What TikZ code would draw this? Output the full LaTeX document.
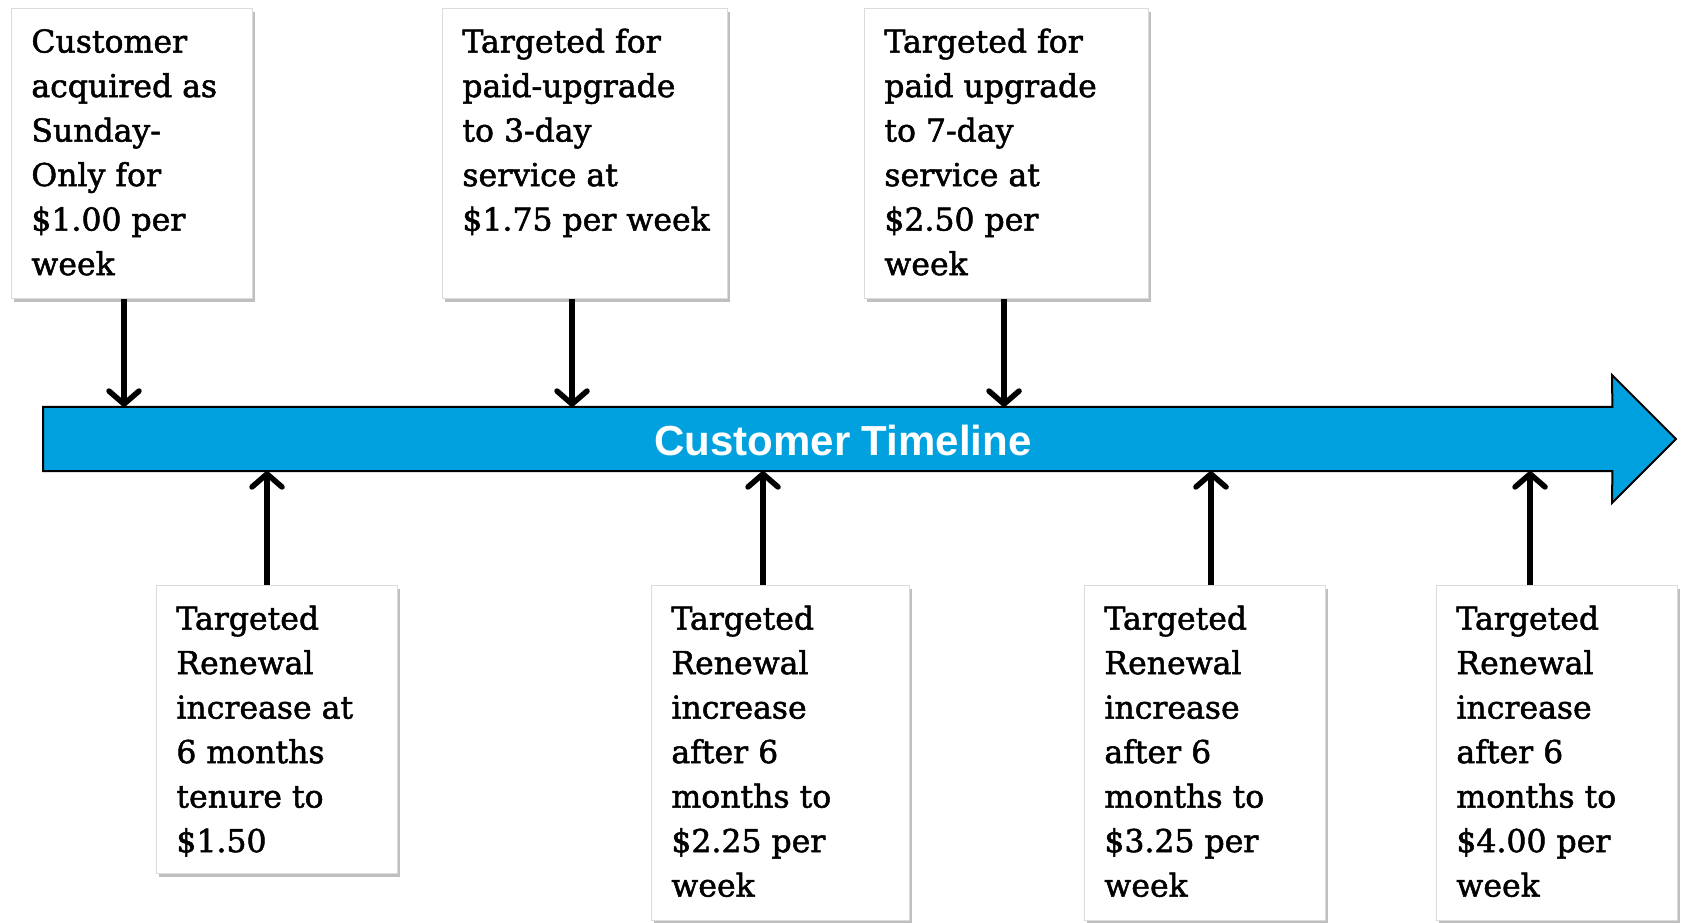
\documentclass[tikz,border=0pt]{standalone}
\usepackage{fontspec}
\setmainfont{DejaVu Serif}
\newfontfamily\cardfont{DejaVu Serif}[FakeBold=1.6]
\newfontfamily\labelsans{Liberation Sans}
\usetikzlibrary{arrows.meta,shadows}

\definecolor{tlblue}{RGB}{0,161,222}

% card text: fixed-size top-aligned block of unbroken lines
\newcommand\cardtext[3]{\parbox[t][#1pt][t]{#2pt}{\begin{tabular}[t]{@{}l@{}}#3\end{tabular}}}

\tikzset{
  card/.style={draw=black!14, line width=0.8pt, fill=white, anchor=north west,
    inner xsep=20pt, inner ysep=13pt,
    font=\cardfont\fontsize{31.5}{44.5}\selectfont,
    drop shadow={shadow xshift=3pt, shadow yshift=-4pt, fill=black, opacity=0.25}},
  conn/.style={line width=5.5pt, -{Straight Barb[length=13pt, width=30pt, round]}},
  timeline/.style={draw=black, line width=2pt, fill=tlblue, line join=miter},
  tllabel/.style={text=white, font=\labelsans\bfseries\fontsize{42}{50}\selectfont}
}

\begin{document}
\begin{tikzpicture}[x=1pt, y=-1pt]
\useasboundingbox (0,0) rectangle (1683,922);

% timeline shaft and arrow outline
\node[minimum width=1569pt, minimum height=64pt, inner sep=0, anchor=west] (tl) at (43,439) {};
\draw[timeline] (tl.north west) -- (tl.north east) -- (1612,375) -- (1676,439)
  -- (1612,503) -- (tl.south east) -- (tl.south west) -- cycle;
\node[tllabel] (tllab) at (843,440) {Customer Timeline};

% upper cards
\node[card] (b1) at (11,8) {\cardtext{264}{201}{Customer\\acquired as\\Sunday-\\Only for\\\$1.00 per\\week}};
\node[card] (b2) at (442,8) {\cardtext{264}{245}{Targeted for\\paid-upgrade\\to 3-day\\service at\\\$1.75 per week}};
\node[card] (b3) at (864,8) {\cardtext{264}{244}{Targeted for\\paid upgrade\\to 7-day\\service at\\\$2.50 per\\week}};

% lower cards
\node[card] (b4) at (156,585) {\cardtext{262}{201}{Targeted\\Renewal\\increase at\\6 months\\tenure to\\\$1.50}};
\node[card] (b5) at (651,585) {\cardtext{309}{218}{Targeted\\Renewal\\increase\\after 6\\months to\\\$2.25 per\\week}};
\node[card] (b6) at (1084,585) {\cardtext{309}{201}{Targeted\\Renewal\\increase\\after 6\\months to\\\$3.25 per\\week}};
\node[card] (b7) at (1436,585) {\cardtext{309}{201}{Targeted\\Renewal\\increase\\after 6\\months to\\\$4.00 per\\week}};

% connector columns
\coordinate (c1) at (124,0);
\coordinate (c2) at (572,0);
\coordinate (c3) at (1004,0);
\coordinate (c4) at (267,0);
\coordinate (c5) at (763,0);
\coordinate (c6) at (1211,0);
\coordinate (c7) at (1530,0);

\draw[conn] (b1.south -| c1) -- (tl.north -| c1);
\draw[conn] (b2.south -| c2) -- (tl.north -| c2);
\draw[conn] (b3.south -| c3) -- (tl.north -| c3);
\draw[conn] (b4.north -| c4) -- (tl.south -| c4);
\draw[conn] (b5.north -| c5) -- (tl.south -| c5);
\draw[conn] (b6.north -| c6) -- (tl.south -| c6);
\draw[conn] (b7.north -| c7) -- (tl.south -| c7);
\end{tikzpicture}
\end{document}
